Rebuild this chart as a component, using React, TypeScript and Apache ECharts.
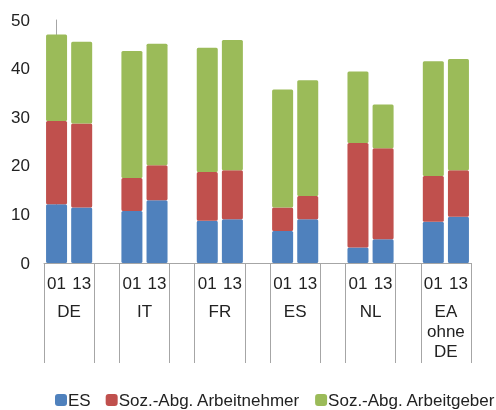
import React, { useEffect, useRef } from "react";
import * as echarts from "echarts";

const categories = ["01", "13", "", "01", "13", "", "01", "13", "", "01", "13", "", "01", "13", "", "01", "13"];
const groupNames = ["DE", "IT", "FR", "ES", "NL", "EA\nohne\nDE"];
const esValues = [12.1, 11.4, 10.7, 12.9, 8.7, 9.0, 6.6, 9.0, 3.2, 4.9, 8.5, 9.5];
const anValues = [17.1, 17.3, 6.8, 7.2, 10.0, 10.1, 4.8, 4.8, 21.5, 18.7, 9.4, 9.6];
const agValues = [17.8, 16.8, 26.1, 25.0, 25.6, 26.8, 24.3, 23.8, 14.7, 9.0, 23.6, 22.9];
const seriesNames = ["ES", "Soz.-Abg. Arbeitnehmer", "Soz.-Abg. Arbeitgeber"];
const colors = ["#4F81BD", "#C0504D", "#9BBB59"];

function spread(values: number[]): (number | string)[] {
  const out: (number | string)[] = [];
  let k = 0;
  categories.forEach((c) => {
    if (c === "") out.push("-");
    else out.push(values[k++]);
  });
  return out;
}

const FONT = "'Liberation Sans', Arial, sans-serif";
const FS = 17;

export default function App() {
  const ref = useRef<HTMLDivElement>(null);
  useEffect(() => {
    if (!ref.current) return;
    const chart = echarts.init(ref.current, null, { renderer: "svg" });
    const all = [esValues, anValues, agValues];
    chart.setOption({
      animation: false,
      textStyle: { fontFamily: FONT },
      grid: { left: 44, right: 25, top: 20, bottom: 147 },
      legend: {
        left: 55,
        top: 390,
        width: 600,
        padding: 0,
        itemWidth: 12,
        itemHeight: 12,
        itemGap: 15,
        icon: "roundRect",
        data: seriesNames,
        textStyle: { fontFamily: FONT, fontSize: FS, lineHeight: 20, color: "#222", padding: [0, 0, 0, -4] },
      },
      xAxis: [
        {
          type: "category",
          data: categories,
          position: "bottom",
          axisLine: { show: true, lineStyle: { color: "#A6A6A6", width: 1 } },
          axisTick: {
            show: true,
            length: 100,
            interval: (i: number) => i % 3 !== 1,
            lineStyle: { color: "#A6A6A6", width: 1 },
          },
          axisLabel: {
            interval: 0,
            margin: 10,
            fontSize: FS,
            lineHeight: 20,
            color: "#222",
            fontFamily: FONT,
          },
          splitLine: { show: false },
        },
        {
          type: "value",
          position: "bottom",
          min: -0.5,
          max: 16.5,
          interval: 0.5,
          axisLine: { show: false },
          axisTick: { show: false },
          splitLine: { show: false },
          axisLabel: {
            margin: 38,
            fontSize: FS,
            lineHeight: 20,
            color: "#222",
            fontFamily: FONT,
            formatter: (v: number) => {
              const g = (v - 0.5) / 3;
              if (Math.abs(g - Math.round(g)) < 1e-6 && g >= 0 && g < groupNames.length) {
                return groupNames[Math.round(g)];
              }
              return "";
            },
          },
        },
      ],
      yAxis: {
        type: "value",
        min: 0,
        max: 50,
        interval: 10,
        axisLine: { show: true, lineStyle: { color: "#A6A6A6", width: 1 } },
        axisTick: { show: false },
        splitLine: { show: false },
        axisLabel: { margin: 14, fontSize: FS, color: "#222", fontFamily: FONT },
      },
      series: seriesNames.map((name, i) => ({
        name,
        type: "bar",
        stack: "total",
        xAxisIndex: 0,
        barWidth: 21,
        data: spread(all[i]),
        itemStyle: { color: colors[i], borderRadius: 1.5 },
      })),
    });
    return () => chart.dispose();
  }, []);
  return <div ref={ref} style={{ position: "fixed", left: 0, top: 0, width: 496, height: 410 }} />;
}
